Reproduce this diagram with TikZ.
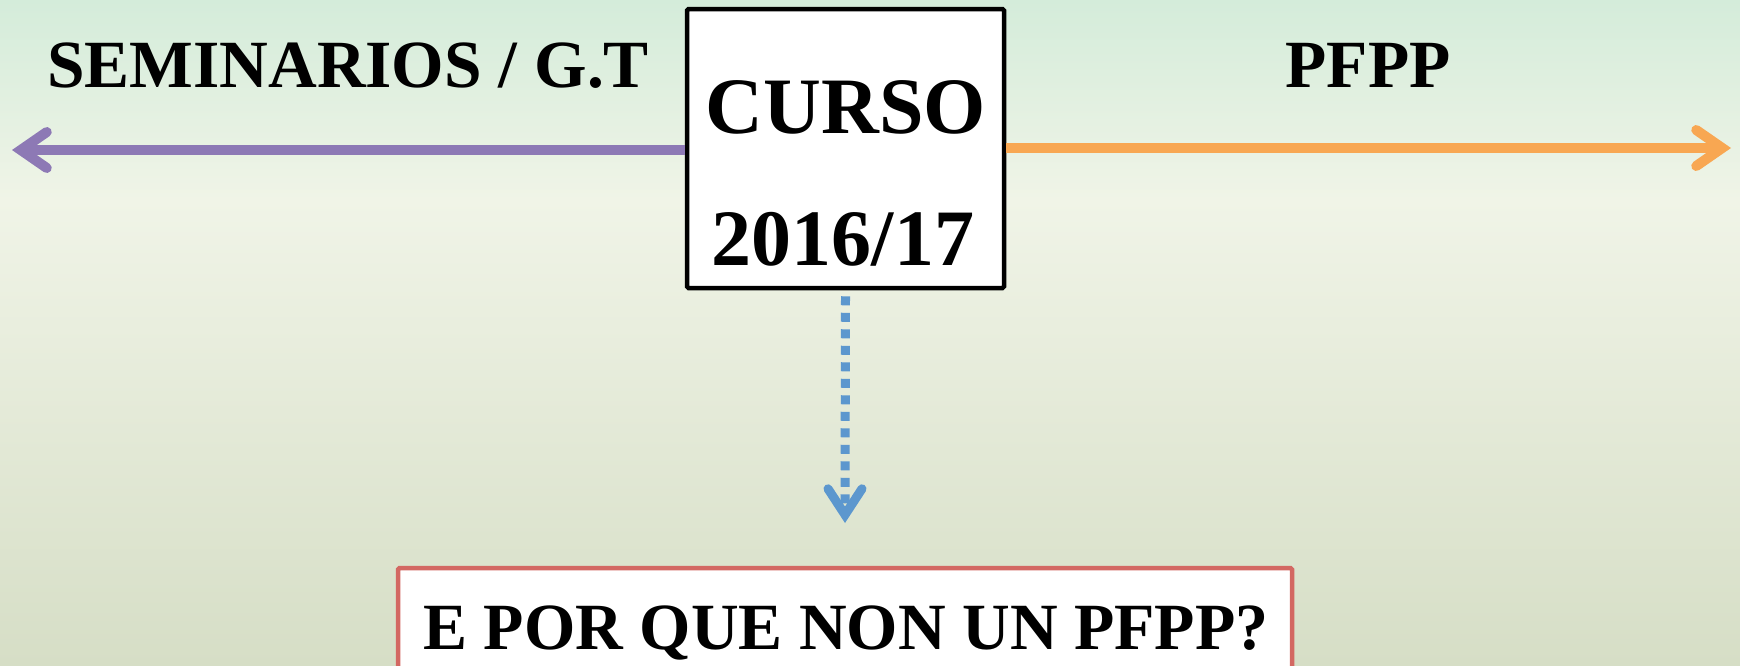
\documentclass[tikz,border=0pt]{standalone}
\usepackage{fontspec}
\setmainfont{Liberation Serif}
\usetikzlibrary{arrows.meta}

\definecolor{bgtop}{RGB}{212,236,218}
\definecolor{bgmid}{RGB}{240,244,231}
\definecolor{bgbot}{RGB}{214,222,198}
\definecolor{morado}{RGB}{141,121,181}
\definecolor{laranxa}{RGB}{248,167,82}
\definecolor{azul}{RGB}{92,151,206}
\definecolor{vermello}{RGB}{211,104,98}

\newcommand\letragrande{\fontsize{67.5}{72}\selectfont\bfseries}
\newcommand\letracurso{\fontsize{80}{84}\selectfont\bfseries}

\begin{document}
\begin{tikzpicture}[x=1pt,y=-1pt,
        etiqueta/.style={anchor=base,inner sep=0pt,font=\letragrande},
        frecha/.style={line width=10pt,-{Straight Barb[length=26pt,width=36pt,line cap=round]}},
        caixa/.style={draw=#1,line width=4.5pt,fill=white,rounded corners=1.5pt}]
        \clip (0,0) rectangle (1740,665);
        \shade[top color=bgtop,bottom color=bgmid] (0,0) rectangle (1740,200.5);
        \shade[top color=bgmid,bottom color=bgbot] (0,200) rectangle (1740,665);
        \node[caixa=black,minimum width=317pt,minimum height=279pt,inner sep=0pt] (curso) at (845.5,148.5) {};
        \node[etiqueta,font=\letracurso] (cursotxt) at (846,133) {CURSO};
        \node[etiqueta,font=\letracurso] (anotxt) at (843,265) {2016/17};
        \node[etiqueta] (seminarios) at (348,87) {SEMINARIOS / G.T};
        \node[etiqueta] (pfpp) at (1368,87) {PFPP};
        \coordinate (esq) at (12,150);
        \coordinate (der) at (1731,148);
        \coordinate (abaixo) at (845,523);
        \draw[frecha,draw=morado] (curso.west|-esq) -- (esq);
        \draw[frecha,draw=laranxa] (curso.east|-der) -- (der);
        \draw[line width=9pt,draw=azul,dash pattern=on 9pt off 7.5pt] ([yshift=-6pt]curso.south) -- ([yshift=14pt]abaixo);
        \draw[line width=9pt,draw=azul,-{Straight Barb[length=26pt,width=34pt,line cap=round]}] ([yshift=12pt]abaixo) -- (abaixo);
        \node[caixa=vermello,minimum width=894pt,minimum height=140pt,inner sep=0pt] (pregunta) at (845,638) {};
        \node[etiqueta,font=\fontsize{66}{70}\selectfont\bfseries] (preguntatxt) at (846,649) {E POR QUE NON UN PFPP?};
    \end{tikzpicture}
\end{document}
